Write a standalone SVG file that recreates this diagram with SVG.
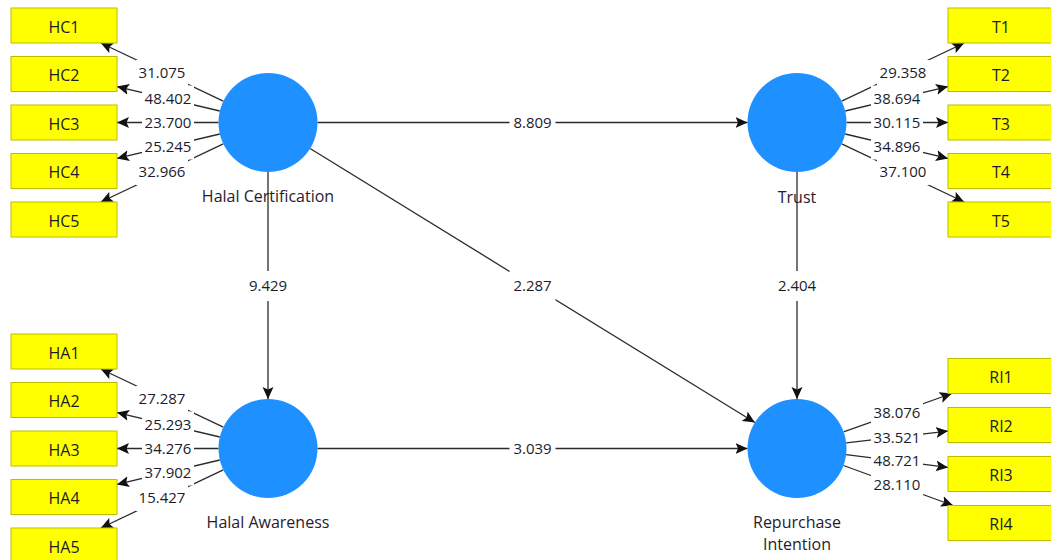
<svg xmlns="http://www.w3.org/2000/svg" width="1051" height="560" viewBox="0 0 1051 560">
  <style>
    .ind rect { fill: #ffff00; stroke: #bdbd00; stroke-width: 1; }
    .ind text { font-family: "Open Sans", "Liberation Sans", sans-serif; font-size: 16px; fill: #1c1c28; text-anchor: middle; }
    .lv circle { fill: #1e90ff; }
    .lv text { font-family: "Open Sans", "Liberation Sans", sans-serif; font-size: 16px; fill: #2a1a30; text-anchor: middle; }
    .edges line { stroke: #2b2b2b; stroke-width: 1.3; marker-end: url(#head); }
    .labels rect { fill: #ffffff; }
    .labels text { font-family: "Open Sans", "Liberation Sans", sans-serif; font-size: 15px; fill: #1c1c2c; text-anchor: middle; }
  </style>
  <defs>
    <marker id="head" markerUnits="userSpaceOnUse" markerWidth="12" markerHeight="12" viewBox="0 0 12 12" refX="12" refY="6" orient="auto">
      <path d="M0,0.5 L12,6 L0,11.5 L2.5,6 Z" fill="#111111"/>
    </marker>
  </defs>
  <rect width="1051" height="560" fill="#ffffff"/>

  <!-- connectors: lines first, t-value labels on white plates above them -->
  <g id="connectors">
    <g class="edges">
      <!-- Halal Certification outer loadings -->
      <line x1="223.3" y1="101.2" x2="100.8" y2="43"/>
      <line x1="219.8" y1="111" x2="117" y2="86.6"/>
      <line x1="218.5" y1="122.5" x2="117" y2="122.5"/>
      <line x1="219.8" y1="134" x2="117" y2="158.4"/>
      <line x1="223.3" y1="143.8" x2="100.8" y2="202"/>
      <!-- Halal Awareness outer loadings -->
      <line x1="223.3" y1="427.2" x2="100.8" y2="369"/>
      <line x1="219.8" y1="437" x2="117" y2="412.6"/>
      <line x1="218.5" y1="448.5" x2="117" y2="448.5"/>
      <line x1="219.8" y1="460" x2="117" y2="484.4"/>
      <line x1="223.3" y1="469.8" x2="100.8" y2="528"/>
      <!-- Trust outer loadings -->
      <line x1="841.7" y1="101.2" x2="964.2" y2="43"/>
      <line x1="845.2" y1="111" x2="948" y2="86.6"/>
      <line x1="846.5" y1="122.5" x2="948" y2="122.5"/>
      <line x1="845.2" y1="134" x2="948" y2="158.4"/>
      <line x1="841.7" y1="143.8" x2="964.2" y2="202"/>
      <!-- Repurchase Intention outer loadings -->
      <line x1="843.6" y1="431.9" x2="951.8" y2="393.5"/>
      <line x1="846.2" y1="442.8" x2="948" y2="431.1"/>
      <line x1="846.1" y1="454.6" x2="948" y2="467.4"/>
      <line x1="843.5" y1="465.5" x2="953.1" y2="505.5"/>
      <!-- structural paths -->
      <line x1="317.5" y1="122.5" x2="747.5" y2="122.5"/>
      <line x1="268" y1="172" x2="268" y2="399"/>
      <line x1="797" y1="172" x2="797" y2="399"/>
      <line x1="317.5" y1="448.5" x2="747.5" y2="448.5"/>
      <line x1="310.1" y1="148.5" x2="754.9" y2="422.5"/>
    </g>
    <g class="labels">
      <rect x="136" y="60" width="52" height="26"/><text x="162" y="78.4">31.075</text>
      <rect x="142" y="85.5" width="52" height="26"/><text x="168" y="103.9">48.402</text>
      <rect x="142" y="109.5" width="52" height="26"/><text x="168" y="127.9">23.700</text>
      <rect x="142" y="133.5" width="52" height="26"/><text x="168" y="151.9">25.245</text>
      <rect x="136" y="159" width="52" height="26"/><text x="162" y="177.4">32.966</text>

      <rect x="136" y="386" width="52" height="26"/><text x="162" y="404.4">27.287</text>
      <rect x="142" y="411.5" width="52" height="26"/><text x="168" y="429.9">25.293</text>
      <rect x="142" y="435.5" width="52" height="26"/><text x="168" y="453.9">34.276</text>
      <rect x="142" y="459.5" width="52" height="26"/><text x="168" y="477.9">37.902</text>
      <rect x="136" y="485" width="52" height="26"/><text x="162" y="503.4">15.427</text>

      <rect x="877" y="60" width="52" height="26"/><text x="903" y="78.4">29.358</text>
      <rect x="871" y="85.5" width="52" height="26"/><text x="897" y="103.9">38.694</text>
      <rect x="871" y="109.5" width="52" height="26"/><text x="897" y="127.9">30.115</text>
      <rect x="871" y="133.5" width="52" height="26"/><text x="897" y="151.9">34.896</text>
      <rect x="877" y="159" width="52" height="26"/><text x="903" y="177.4">37.100</text>

      <rect x="871" y="400" width="52" height="26"/><text x="897" y="418.4">38.076</text>
      <rect x="871" y="424.5" width="52" height="26"/><text x="897" y="442.9">33.521</text>
      <rect x="871" y="448" width="52" height="26"/><text x="897" y="466.4">48.721</text>
      <rect x="871" y="472" width="52" height="26"/><text x="897" y="490.4">28.110</text>

      <rect x="509.5" y="109.5" width="46" height="26"/><text x="532.5" y="127.9">8.809</text>
      <rect x="245" y="271" width="46" height="30"/><text x="268" y="291.4">9.429</text>
      <rect x="509.5" y="271" width="46" height="30"/><text x="532.5" y="291.4">2.287</text>
      <rect x="774" y="271" width="46" height="30"/><text x="797" y="291.4">2.404</text>
      <rect x="509.5" y="435.5" width="46" height="26"/><text x="532.5" y="453.9">3.039</text>
    </g>
  </g>

  <!-- latent variables -->
  <g id="halal-certification" class="lv">
    <circle cx="268" cy="122.5" r="49.5"/>
    <text x="268" y="202">Halal Certification</text>
  </g>
  <g id="trust" class="lv">
    <circle cx="797" cy="122.5" r="49.5"/>
    <text x="797" y="202.5">Trust</text>
  </g>
  <g id="halal-awareness" class="lv">
    <circle cx="268" cy="448.5" r="49.5"/>
    <text x="268" y="528">Halal Awareness</text>
  </g>
  <g id="repurchase-intention" class="lv">
    <circle cx="797" cy="448.5" r="49.5"/>
    <text x="797" y="528">Repurchase</text>
    <text x="797" y="550">Intention</text>
  </g>

  <!-- indicators -->
  <g id="HC1" class="ind"><rect x="11" y="8" width="106" height="35"/><text x="64" y="32.5">HC1</text></g>
  <g id="HC2" class="ind"><rect x="11" y="56.5" width="106" height="35"/><text x="64" y="81">HC2</text></g>
  <g id="HC3" class="ind"><rect x="11" y="105" width="106" height="35"/><text x="64" y="129.5">HC3</text></g>
  <g id="HC4" class="ind"><rect x="11" y="153.5" width="106" height="35"/><text x="64" y="178">HC4</text></g>
  <g id="HC5" class="ind"><rect x="11" y="202" width="106" height="35"/><text x="64" y="226.5">HC5</text></g>

  <g id="HA1" class="ind"><rect x="11" y="334" width="106" height="35"/><text x="64" y="358.5">HA1</text></g>
  <g id="HA2" class="ind"><rect x="11" y="382.5" width="106" height="35"/><text x="64" y="407">HA2</text></g>
  <g id="HA3" class="ind"><rect x="11" y="431" width="106" height="35"/><text x="64" y="455.5">HA3</text></g>
  <g id="HA4" class="ind"><rect x="11" y="479.5" width="106" height="35"/><text x="64" y="504">HA4</text></g>
  <g id="HA5" class="ind"><rect x="11" y="528" width="106" height="35"/><text x="64" y="552.5">HA5</text></g>

  <g id="T1" class="ind"><rect x="948" y="8" width="106" height="35"/><text x="1001" y="32.5">T1</text></g>
  <g id="T2" class="ind"><rect x="948" y="56.5" width="106" height="35"/><text x="1001" y="81">T2</text></g>
  <g id="T3" class="ind"><rect x="948" y="105" width="106" height="35"/><text x="1001" y="129.5">T3</text></g>
  <g id="T4" class="ind"><rect x="948" y="153.5" width="106" height="35"/><text x="1001" y="178">T4</text></g>
  <g id="T5" class="ind"><rect x="948" y="202" width="106" height="35"/><text x="1001" y="226.5">T5</text></g>

  <g id="RI1" class="ind"><rect x="948" y="358.5" width="106" height="35"/><text x="1001" y="383">RI1</text></g>
  <g id="RI2" class="ind"><rect x="948" y="407.5" width="106" height="35"/><text x="1001" y="432">RI2</text></g>
  <g id="RI3" class="ind"><rect x="948" y="456.5" width="106" height="35"/><text x="1001" y="481">RI3</text></g>
  <g id="RI4" class="ind"><rect x="948" y="505.5" width="106" height="35"/><text x="1001" y="530">RI4</text></g>
</svg>
